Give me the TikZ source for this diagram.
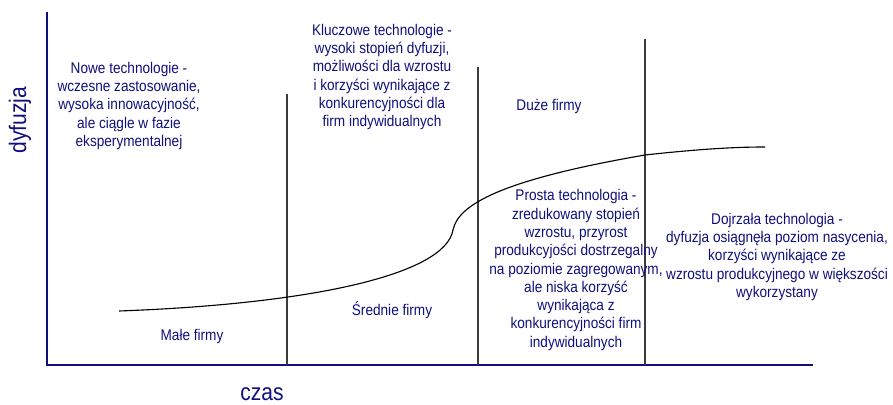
\documentclass[tikz,border=0pt]{standalone}
\usepackage{fontspec}
\newfontfamily\napis{Liberation Sans}[FakeStretch=0.88]
\usetikzlibrary{positioning}
\definecolor{granat}{RGB}{15,15,125}
\definecolor{szary}{RGB}{60,60,60}
\tikzstyle{opis} = [text=granat, align=center, inner sep=0pt, font=\napis\fontsize{11}{13}\selectfont]
\tikzstyle{osopis} = [opis, font=\napis\fontsize{17}{20}\selectfont]
\tikzstyle{osie} = [draw=granat, line width=1.1pt]
\tikzstyle{granica} = [draw=szary, line width=1pt]
\tikzstyle{krzywa} = [draw=black, line width=0.8pt]

\begin{document}
\begin{tikzpicture}[x=0.025cm, y=-0.025cm]
                    \useasboundingbox (0,0) rectangle (893,405);

                    % osie
                    \coordinate (poczatek) at (47,365);
                    \coordinate (osy) at (47,12);
                    \coordinate (osx) at (813,365);
                    \draw[osie] (osy) -- (poczatek) -- (osx);
                    \node[osopis, rotate=90] (dyfuzja) at (20,120) {dyfuzja};
                    \node[osopis] (czas) at (262,394) {czas};

                    % granice etapow
                    \coordinate (g1) at (287,94);
                    \coordinate (g2) at (478,67);
                    \coordinate (g3) at (645,39);
                    \draw[granica] (g1) -- (g1 |- poczatek);
                    \draw[granica] (g2) -- (g2 |- poczatek);
                    \draw[granica] (g3) -- (g3 |- poczatek);

                    % krzywa dyfuzji
                    \coordinate (k0) at (119,311);
                    \coordinate (k1) at (453,230);
                    \coordinate (k2) at (645,155);
                    \coordinate (k3) at (765,147);
                    \draw[krzywa] (k0) .. controls (310,304) and (445,275) .. (k1)
                                       .. controls (458,205) and (500,180) .. (k2)
                                       .. controls (700,149) and (735,147) .. (k3);

                    \node[opis] (nowe) at (129,106) {Nowe technologie -\\wczesne zastosowanie,\\wysoka innowacyjność,\\ale ciągle w fazie\\eksperymentalnej};
                    \node[opis] (kluczowe) at (382,77) {Kluczowe technologie -\\wysoki stopień dyfuzji,\\możliwości dla wzrostu\\i korzyści wynikające z\\konkurencyjności dla\\firm indywidualnych};
                    \node[opis] (prosta) at (576,270) {Prosta technologia -\\zredukowany stopień\\wzrostu, przyrost\\produkcyjości dostrzegalny\\na poziomie zagregowanym,\\ale niska korzyść\\wynikająca z\\konkurencyjności firm\\indywidualnych};
                    \node[opis] (dojrzala) at (777,257) {Dojrzała technologia -\\dyfuzja osiągnęła poziom nasycenia,\\korzyści wynikające ze\\wzrostu produkcyjnego w większości\\wykorzystany};

                    \node[opis] (male) at (192,337) {Małe firmy};
                    \node[opis] (srednie) at (392,310) {Średnie firmy};
                    \node[opis] (duze) at (549,107) {Duże firmy};
                \end{tikzpicture}
\end{document}
